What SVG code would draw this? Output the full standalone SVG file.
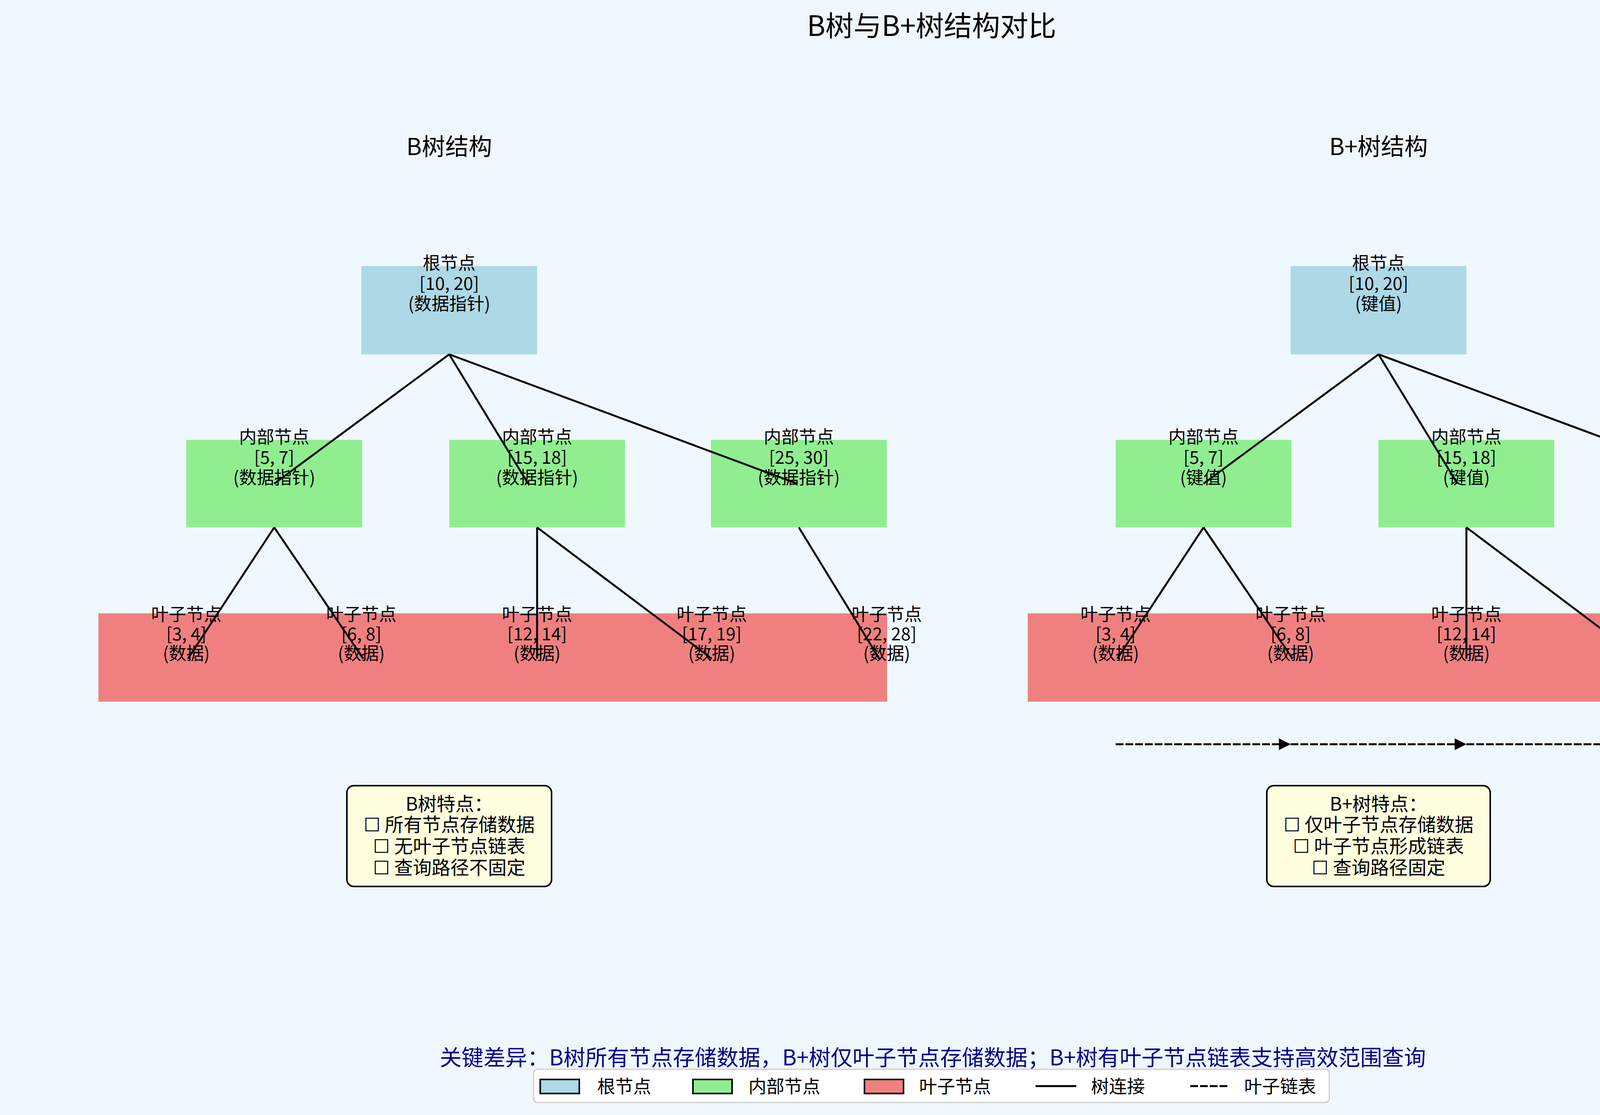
<svg xmlns="http://www.w3.org/2000/svg" width="4770" height="2854" viewBox="0 0 4770 2854">
<style>
text{font-family:"Noto Sans CJK SC","DejaVu Sans",sans-serif;fill:#000;text-anchor:middle}
.n{font-size:45px}
.root{fill:#add8e6}.int{fill:#90ee90}.leaf{fill:#f08080}
.e{stroke:#000;stroke-width:5;fill:none}
.ll{stroke:#000;stroke-width:5;fill:none;stroke-dasharray:20,5}
.feat{fill:#ffffe0;stroke:#000;stroke-width:4}
.f{font-size:48px}
.lg{font-size:46px;text-anchor:start}
</style>
<defs>
<marker id="ah" viewBox="0 0 10 10" refX="10" refY="5" markerWidth="6" markerHeight="6" markerUnits="strokeWidth" orient="auto"><path d="M0,0 L10,5 L0,10 z" fill="#000"/></marker>
</defs>
<rect width="4770" height="2854" fill="#f0f8ff"/>
<text x="2385" y="92" style="font-size:72px">B树与B+树结构对比</text>
<text x="1150" y="397" style="font-size:60px">B树结构</text>
<text x="3529" y="397" style="font-size:60px">B+树结构</text>

<g id="b-leaves"><rect class="leaf" x="252" y="1570" width="2019" height="226"/></g>
<g id="bp-leaves"><rect class="leaf" x="2631" y="1570" width="2019" height="226"/></g>

<g id="b-root"><rect class="root" x="925" y="681" width="450" height="226"/><text class="n" x="1150" y="690">根节点</text><text class="n" x="1150" y="742">[10, 20]</text><text class="n" x="1150" y="794">(数据指针)</text></g>
<g id="b-int1"><rect class="int" x="477" y="1126" width="450" height="224"/><text class="n" x="702" y="1135">内部节点</text><text class="n" x="702" y="1187">[5, 7]</text><text class="n" x="702" y="1239">(数据指针)</text></g>
<g id="b-int2"><rect class="int" x="1150" y="1126" width="450" height="224"/><text class="n" x="1375" y="1135">内部节点</text><text class="n" x="1375" y="1187">[15, 18]</text><text class="n" x="1375" y="1239">(数据指针)</text></g>
<g id="b-int3"><rect class="int" x="1820" y="1126" width="450" height="224"/><text class="n" x="2045" y="1135">内部节点</text><text class="n" x="2045" y="1187">[25, 30]</text><text class="n" x="2045" y="1239">(数据指针)</text></g>
<g id="b-l1"><text class="n" x="477" y="1589">叶子节点</text><text class="n" x="477" y="1639">[3, 4]</text><text class="n" x="477" y="1689">(数据)</text></g>
<g id="b-l2"><text class="n" x="925" y="1589">叶子节点</text><text class="n" x="925" y="1639">[6, 8]</text><text class="n" x="925" y="1689">(数据)</text></g>
<g id="b-l3"><text class="n" x="1375" y="1589">叶子节点</text><text class="n" x="1375" y="1639">[12, 14]</text><text class="n" x="1375" y="1689">(数据)</text></g>
<g id="b-l4"><text class="n" x="1822" y="1589">叶子节点</text><text class="n" x="1822" y="1639">[17, 19]</text><text class="n" x="1822" y="1689">(数据)</text></g>
<g id="b-l5"><text class="n" x="2270" y="1589">叶子节点</text><text class="n" x="2270" y="1639">[22, 28]</text><text class="n" x="2270" y="1689">(数据)</text></g>

<g id="bp-root"><rect class="root" x="3304" y="681" width="450" height="226"/><text class="n" x="3529" y="690">根节点</text><text class="n" x="3529" y="742">[10, 20]</text><text class="n" x="3529" y="794">(键值)</text></g>
<g id="bp-int1"><rect class="int" x="2856" y="1126" width="450" height="224"/><text class="n" x="3081" y="1135">内部节点</text><text class="n" x="3081" y="1187">[5, 7]</text><text class="n" x="3081" y="1239">(键值)</text></g>
<g id="bp-int2"><rect class="int" x="3529" y="1126" width="450" height="224"/><text class="n" x="3754" y="1135">内部节点</text><text class="n" x="3754" y="1187">[15, 18]</text><text class="n" x="3754" y="1239">(键值)</text></g>
<g id="bp-int3"><rect class="int" x="4199" y="1126" width="450" height="224"/><text class="n" x="4424" y="1135">内部节点</text><text class="n" x="4424" y="1187">[25, 30]</text><text class="n" x="4424" y="1239">(键值)</text></g>
<g id="bp-l1"><text class="n" x="2856" y="1589">叶子节点</text><text class="n" x="2856" y="1639">[3, 4]</text><text class="n" x="2856" y="1689">(数据)</text></g>
<g id="bp-l2"><text class="n" x="3304" y="1589">叶子节点</text><text class="n" x="3304" y="1639">[6, 8]</text><text class="n" x="3304" y="1689">(数据)</text></g>
<g id="bp-l3"><text class="n" x="3754" y="1589">叶子节点</text><text class="n" x="3754" y="1639">[12, 14]</text><text class="n" x="3754" y="1689">(数据)</text></g>
<g id="bp-l4"><text class="n" x="4201" y="1589">叶子节点</text><text class="n" x="4201" y="1639">[17, 19]</text><text class="n" x="4201" y="1689">(数据)</text></g>
<g id="bp-l5"><text class="n" x="4649" y="1589">叶子节点</text><text class="n" x="4649" y="1639">[22, 28]</text><text class="n" x="4649" y="1689">(数据)</text></g>

<g id="connectors">
<path class="e" d="M1150,907 L702,1238 M1150,907 L1352,1238 M1150,907 L2041,1238"/>
<path class="e" d="M702,1350 L481,1686 M702,1350 L930,1686 M1375,1350 L1375,1686 M1375,1350 L1822,1686 M2045,1350 L2251,1686"/>
<path class="e" d="M3529,907 L3081,1238 M3529,907 L3731,1238 M3529,907 L4420,1238"/>
<path class="e" d="M3081,1350 L2860,1686 M3081,1350 L3309,1686 M3754,1350 L3754,1686 M3754,1350 L4201,1686 M4424,1350 L4630,1686"/>
<path class="ll" d="M2856,1905 L3304,1905" marker-end="url(#ah)"/>
<path class="ll" d="M3304,1905 L3754,1905" marker-end="url(#ah)"/>
<path class="ll" d="M3754,1905 L4201,1905" marker-end="url(#ah)"/>
<path class="ll" d="M4201,1905 L4649,1905"/>
<path class="e" d="M4649,1890 L4649,1920" style="stroke-width:3"/>
</g>

<g id="b-features"><rect class="feat" x="888" y="2011" width="524" height="258" rx="18"/>
<text class="f" x="1150" y="2075">B树特点：</text><text class="f" x="1150" y="2128">☐ 所有节点存储数据</text><text class="f" x="1150" y="2183">☐ 无叶子节点链表</text><text class="f" x="1150" y="2238">☐ 查询路径不固定</text></g>
<g id="bp-features"><rect class="feat" x="3243" y="2011" width="572" height="258" rx="18"/>
<text class="f" x="3529" y="2075">B+树特点：</text><text class="f" x="3529" y="2128">☐ 仅叶子节点存储数据</text><text class="f" x="3529" y="2183">☐ 叶子节点形成链表</text><text class="f" x="3529" y="2238">☐ 查询路径固定</text></g>

<text x="2388" y="2727" style="font-size:56px;fill:#00008b">关键差异：B树所有节点存储数据，B+树仅叶子节点存储数据；B+树有叶子节点链表支持高效范围查询</text>

<g id="legend">
<rect x="1366" y="2737" width="2037" height="85" rx="10" fill="#fff" stroke="#cccccc" stroke-width="3"/>
<rect x="1383" y="2763" width="100" height="36" class="root" stroke="#000" stroke-width="4"/>
<text class="lg" x="1529" y="2797">根节点</text>
<rect x="1774" y="2763" width="100" height="36" class="int" stroke="#000" stroke-width="4"/>
<text class="lg" x="1916" y="2797">内部节点</text>
<rect x="2213" y="2763" width="100" height="36" class="leaf" stroke="#000" stroke-width="4"/>
<text class="lg" x="2353" y="2797">叶子节点</text>
<line x1="2651" y1="2780" x2="2755" y2="2780" stroke="#000" stroke-width="5"/>
<text class="lg" x="2793" y="2797">树连接</text>
<line x1="3047" y1="2780" x2="3147" y2="2780" class="ll"/>
<text class="lg" x="3185" y="2797">叶子链表</text>
</g>
<text x="4760" y="2806" style="font-size:84px;fill:#d0d4d8;text-anchor:end;font-family:'Liberation Sans',sans-serif">CSDN @allenXer</text>
</svg>
